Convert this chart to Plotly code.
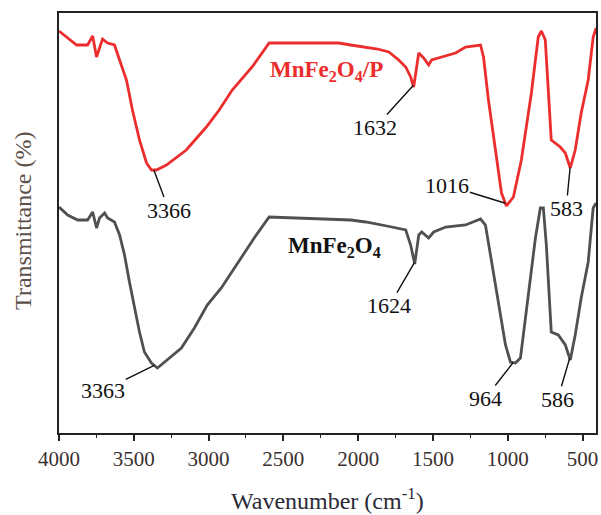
import numpy as np
import plotly.graph_objects as go

# ---- data (transmittance in arbitrary units) ----
wn_p = [4000, 3882, 3809, 3775, 3749, 3709, 3675, 3629, 3595, 3549, 3509, 3462, 3415, 3382,
        3349, 3282, 3149, 3015, 2929, 2842, 2709, 2595, 2395, 2129, 2050, 1949, 1870, 1795,
        1729, 1682, 1649, 1629, 1595, 1562, 1529, 1509, 1442, 1400, 1349, 1282, 1182, 1162,
        1129, 1082, 1042, 1009, 962, 909, 842, 796, 775, 749, 729, 709, 649, 615, 582, 549,
        509, 462, 429, 409]
t_p = [402, 388, 388, 397, 376, 394, 390, 388, 373, 353, 323, 293, 270, 263,
       263, 268, 283, 306, 323, 343, 366, 390, 390, 390, 388, 386, 384, 381,
       373, 366, 356, 346, 380, 375, 368, 373, 376, 378, 380, 386, 388, 376,
       333, 283, 240, 227, 236, 273, 340, 396, 402, 393, 340, 293, 286, 280, 265, 283,
       320, 353, 396, 405]

wn_m = [4000, 3942, 3875, 3809, 3775, 3749, 3729, 3695, 3675, 3629, 3595, 3562, 3529, 3495,
        3462, 3429, 3382, 3342, 3275, 3182, 3095, 3009, 2915, 2782, 2695, 2595, 2395, 2175,
        2050, 1949, 1870, 1775, 1682, 1649, 1622, 1595, 1575, 1529, 1495, 1415, 1282, 1182,
        1149, 1109, 1062, 1015, 982, 949, 915, 862, 815, 782, 762, 742, 709, 662, 615, 582,
        549, 509, 462, 429, 409]
t_m = [226, 218, 213, 213, 221, 205, 215, 220, 215, 211, 198, 178, 151, 125,
       101, 81, 70, 65, 73, 85, 105, 128, 145, 176, 195, 216, 215, 214,
       213, 211, 209, 206, 203, 188, 169, 198, 201, 195, 201, 206, 208, 214,
       208, 171, 128, 88, 71, 70, 75, 138, 195, 225, 225, 188, 101, 98, 88, 73,
       98, 135, 171, 225, 230]

peaks_p = [3366, 1632, 1016, 583]
peaks_m = [3363, 1624, 964, 586]
xticks = [4000, 3500, 3000, 2500, 2000, 1500, 1000, 500]

RED = "#ec2d2d"
GREY = "#505050"
SERIF = "Liberation Serif"

fig = go.Figure()
fig.add_trace(go.Scatter(x=wn_p, y=t_p, mode="lines", line=dict(color=RED, width=2.8),
                         showlegend=False, hoverinfo="skip"))
fig.add_trace(go.Scatter(x=wn_m, y=t_m, mode="lines", line=dict(color=GREY, width=2.8),
                         showlegend=False, hoverinfo="skip"))

# text offsets (pixels) of each peak label relative to its peak
offs_p = [(15, 40), (-38, 42), (-58, -18), (-4, 41)]
offs_m = [(-51, 25), (-25, 43), (-28, 36), (-12, 41)]

annotations = []
for peaks, wn, t, offs in [(peaks_p, wn_p, t_p, offs_p), (peaks_m, wn_m, t_m, offs_m)]:
    for pk, (ax, ay) in zip(peaks, offs):
        yv = float(np.interp(pk, wn[::-1], t[::-1]))
        annotations.append(dict(x=pk, y=yv, text=str(pk), showarrow=True, arrowhead=0,
                                arrowwidth=1.4, arrowcolor="#111111", ax=ax, ay=ay,
                                standoff=0, startstandoff=0, borderpad=0,
                                font=dict(family=SERIF, size=22, color="#111111")))

annotations.append(dict(x=2209, y=362, text="<b>MnFe<sub>2</sub>O<sub>4</sub>/P</b>",
                        showarrow=False, font=dict(family=SERIF, size=23, color=RED)))
annotations.append(dict(x=2155, y=186, text="<b>MnFe<sub>2</sub>O<sub>4</sub></b>",
                        showarrow=False, font=dict(family=SERIF, size=23, color="#111111")))
annotations.append(dict(xref="paper", yref="paper", x=-0.067, y=0.505, textangle=-90,
                        xanchor="center", yanchor="middle",
                        text="Transmittance (%)", showarrow=False,
                        font=dict(family=SERIF, size=24, color="#5c4f48")))
annotations.append(dict(xref="paper", yref="paper", x=0.5, y=-0.157,
                        xanchor="center", yanchor="middle",
                        text="Wavenumber (cm<sup>-1</sup>)", showarrow=False,
                        font=dict(family=SERIF, size=24, color="#2a2a36")))

fig.update_layout(
    width=601, height=515,
    margin=dict(l=59, r=3, t=13, b=82),
    paper_bgcolor="white", plot_bgcolor="white",
    font=dict(family=SERIF),
    annotations=annotations,
    xaxis=dict(range=[4000, 410], tickvals=xticks, ticks="outside", ticklen=6, tickwidth=1.5,
               tickcolor="#222", showline=True, linecolor="#222", linewidth=1.5, mirror=True,
               showgrid=False, zeroline=False,
               tickfont=dict(family=SERIF, size=21, color="#3a3030"),
               minor=dict(ticks="outside", ticklen=3, tickwidth=1.2, tickcolor="#222", dtick=250)),
    yaxis=dict(range=[0, 420], showticklabels=False, ticks="", showline=True, linecolor="#222",
               linewidth=1.5, mirror=True, showgrid=False, zeroline=False),
)

fig.write_html("out.html", config={"displayModeBar": False},
               post_script="document.body.style.margin='0';")
